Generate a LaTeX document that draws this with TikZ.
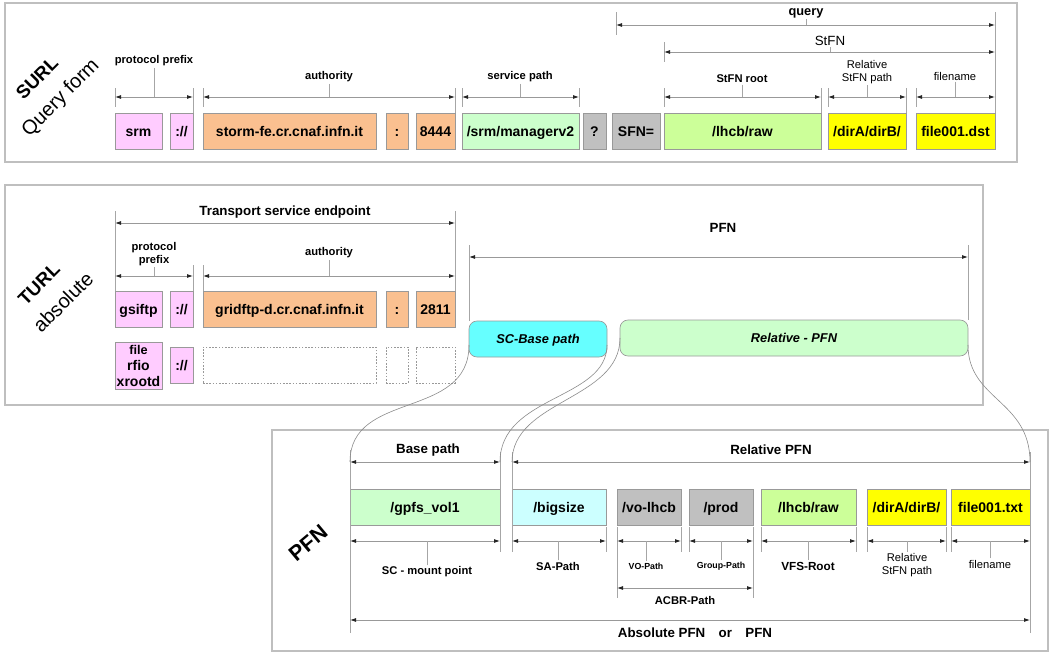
\documentclass[tikz,border=0pt]{standalone}
\usepackage{fontspec}
\usepackage{graphicx}
\setmainfont{Liberation Sans}
\usetikzlibrary{arrows.meta}
\definecolor{cpink}{HTML}{FFCCFF}
\definecolor{corange}{HTML}{FAC090}
\definecolor{cgray}{HTML}{C0C0C0}
\definecolor{cgreen}{HTML}{CCFF99}
\definecolor{clgreen}{HTML}{CCFFCC}
\definecolor{cyellow}{HTML}{FFFF00}
\definecolor{ccyan}{HTML}{66FFFF}
\definecolor{clcyan}{HTML}{CCFFFF}
\tikzset{
  panel/.style={draw=black!25, line width=1.3pt, inner sep=0pt},
  cellm/.style={draw=black!40, line width=0.5pt, inner sep=0pt, align=center,
    font=\bfseries\fontsize{10.5}{12}\selectfont},
  cell/.style={cellm, text height=7.5pt, text depth=0pt},
  ghost/.style={draw=black!40, line width=0.45pt, dash pattern=on 1.2pt off 1.2pt, inner sep=0pt},
  rcell/.style={draw=black!40, line width=0.5pt, inner sep=0pt, rounded corners=6pt,
    text height=6.9pt, text depth=0pt,
    font=\bfseries\itshape\fontsize{9.6}{11}\selectfont},
  dimarrow/.style={draw=black!40, line width=0.6pt,
    {Latex[length=4.5pt,width=3pt,color=black!85]}-{Latex[length=4.5pt,width=3pt,color=black!85]}},
  extline/.style={draw=black!35, line width=0.5pt},
  tickline/.style={draw=black!35, line width=0.5pt},
  curveline/.style={draw=black!45, line width=0.45pt},
  lbl/.style={font=\bfseries\fontsize{8.4}{10}\selectfont, align=center, inner sep=1pt},
  lblr/.style={font=\fontsize{8.4}{10}\selectfont, align=center, inner sep=1pt},
  lbls/.style={font=\bfseries\fontsize{6.6}{8}\selectfont, align=center, inner sep=1pt},
  lblb/.style={font=\bfseries\fontsize{10}{12}\selectfont, align=center, inner sep=1pt},
  bigb/.style={font=\bfseries\fontsize{14}{16}\selectfont, inner sep=0pt},
  bigr/.style={font=\fontsize{15}{17}\selectfont, inner sep=0pt},
}
% cell: [style] name, fill, x1, y1, x2, y2, text
\newcommand\cellbox[8][cell]{\node[#1,fill=#3,minimum width={(#6-#4)*0.75pt},
  minimum height={(#7-#5)*0.75pt}] (#2) at ({(#4+#6)/2},{(#5+#7)/2}) {#8};}
\newcommand\ghostbox[5]{\node[ghost,minimum width={(#4-#2)*0.75pt},
  minimum height={(#5-#3)*0.75pt}] (#1) at ({(#2+#4)/2},{(#3+#5)/2}) {};}
\newcommand\dimln[4]{\coordinate (#1L) at (#2,#4); \coordinate (#1R) at (#3,#4);
  \draw[dimarrow] (#1L) -- (#1R);}
\newcommand\vext[3]{\draw[extline] (#1,#2) -- (#1,#3);}
\begin{document}
\begin{tikzpicture}[x=0.75pt,y=-0.75pt]
\useasboundingbox (0,0) rectangle (1054,657);
\fill[white] (0,0) rectangle (1054,657);

% ================= SURL panel =================
\node[panel, minimum width={1012*0.75pt}, minimum height={159*0.75pt}] (surlpanel) at (511,82.5) {};
\node[bigb] (surl) at (37,78) {\rotatebox{45}{SURL}};
\node[bigr] (qform) at (61,98) {\rotatebox{45}{Query form}};

\cellbox{srm}{cpink}{115}{113}{162}{149}{srm}
\cellbox{sepa}{cpink}{170}{113}{193}{149}{://}
\cellbox{hosta}{corange}{203}{113}{376}{149}{storm-fe.cr.cnaf.infn.it}
\cellbox{colona}{corange}{386}{113}{408}{149}{:}
\cellbox{porta}{corange}{416}{113}{455}{149}{8444}
\cellbox{svc}{clgreen}{462}{113}{579}{149}{/srm/managerv2}
\cellbox{qm}{cgray}{583}{113}{606}{149}{?}
\cellbox{sfn}{cgray}{612}{113}{660}{149}{SFN=}
\cellbox{roota}{cgreen}{664}{113}{821}{149}{/lhcb/raw}
\cellbox{rela}{cyellow}{828}{113}{906}{149}{/dirA/dirB/}
\cellbox{filea}{cyellow}{916}{113}{995}{149}{file001.dst}

\vext{115}{88}{107} \vext{193}{88}{113} \vext{203}{88}{107} \vext{455}{88}{113}
\vext{462}{88}{107} \vext{579}{88}{107}
\vext{616}{12}{35} \vext{995}{12}{113} \vext{664}{42}{62}
\vext{664}{88}{107} \vext{821}{88}{113} \vext{828}{88}{107} \vext{906}{88}{113}
\vext{916}{88}{107}

\dimln{pp}{115}{193}{97}
\node[lbl] (pplab) at (154,61) {protocol prefix};
\draw[tickline] (pplab.south) -- (pplab.south |- ppL);
\dimln{au}{203}{455}{97}
\node[lbl] (aulab) at (329,77) {authority};
\draw[tickline] (aulab.south) -- (aulab.south |- auL);
\dimln{sp}{462}{579}{97}
\node[lbl] (splab) at (520,77) {service path};
\draw[tickline] (splab.south) -- (splab.south |- spL);
\dimln{q}{616}{995}{25}
\node[lbl, font=\bfseries\fontsize{9.6}{11}\selectfont] (qlab) at (806,13) {query};
\draw[tickline] (qlab.south) -- (qlab.south |- qL);
\dimln{st}{664}{995}{52}
\node[lblr, font=\fontsize{10}{12}\selectfont] (stlab) at (830,41) {StFN};
\draw[tickline] (stlab.south) -- (stlab.south |- stL);
\dimln{sr}{664}{821}{97}
\node[lbl] (srlab) at (742,79) {StFN root};
\draw[tickline] (srlab.south) -- (srlab.south |- srL);
\dimln{rs}{828}{906}{97}
\node[lblr] (rslab) at (867,72) {Relative\\StFN path};
\draw[tickline] (rslab.south) -- (rslab.south |- rsL);
\dimln{fn}{916}{995}{97}
\node[lblr] (fnlab) at (955,76) {filename};
\draw[tickline] (fnlab.south) -- (fnlab.south |- fnL);

% ================= TURL panel =================
\node[panel, minimum width={978*0.75pt}, minimum height={220*0.75pt}] (turlpanel) at (494,295) {};
\node[bigb] (turl) at (39,284) {\rotatebox{45}{TURL}};
\node[bigr] (absol) at (63,302) {\rotatebox{45}{absolute}};

\dimln{tse}{115}{455}{223}
\node[lblb] (tselab) at (285,212) {Transport service endpoint};
\vext{115}{211}{291} \vext{455}{211}{291}
\dimln{ppb}{115}{193}{276}
\node[lbl] (ppblab) at (154,254) {protocol\\prefix};
\draw[tickline] (ppblab.south) -- (ppblab.south |- ppbL);
\vext{193}{265}{291}
\dimln{aub}{203}{455}{276}
\node[lbl] (aublab) at (329,253) {authority};
\draw[tickline] (aublab.south) -- (aublab.south |- aubL);
\vext{203}{265}{291}

\cellbox{gsiftp}{cpink}{115}{291}{162}{327}{gsiftp}
\cellbox{sepb}{cpink}{170}{291}{193}{327}{://}
\cellbox{hostb}{corange}{203}{291}{376}{327}{gridftp-d.cr.cnaf.infn.it}
\cellbox{colonb}{corange}{386}{291}{408}{327}{:}
\cellbox{portb}{corange}{416}{291}{455}{327}{2811}

\cellbox[cellm]{protos}{cpink}{115}{342}{162}{389}{\fontsize{9.5}{11.5}\selectfont file\\rfio\\xrootd}
\cellbox{sepc}{cpink}{170}{347}{193}{383}{://}
\ghostbox{ghosta}{203}{347}{376}{383}
\ghostbox{ghostb}{386}{347}{408}{383}
\ghostbox{ghostc}{416}{347}{455}{383}

\dimln{pfn}{469}{968}{257}
\node[lblb] (pfnlab) at (723,228) {PFN};
\vext{469}{245}{321} \vext{968}{245}{320}
\cellbox[rcell]{scbase}{ccyan}{469}{321}{607}{357}{SC-Base path}
\cellbox[rcell]{relpfn}{clgreen}{620}{320}{968}{356}{Relative - PFN}

% ================= PFN panel =================
\node[panel, minimum width={776*0.75pt}, minimum height={221*0.75pt}] (pfnpanel) at (660,540.5) {};
\node[font=\bfseries\fontsize{16}{18}\selectfont, inner sep=0pt] (pfnrot) at (308,543) {\rotatebox{40}{PFN}};

\dimln{bp}{350}{500}{462}
\node[lblb] (bplab) at (428,450) {Base path};
\dimln{rp}{512}{1030}{462}
\node[lblb] (rplab) at (771,450) {Relative PFN};

\cellbox{gpfs}{clgreen}{350}{489}{500}{525}{/gpfs\_vol1}
\cellbox{bigsize}{clcyan}{512}{489}{606}{525}{/bigsize}
\cellbox{volhcb}{cgray}{617}{489}{681}{525}{/vo-lhcb}
\cellbox{prod}{cgray}{689}{489}{753}{525}{/prod}
\cellbox{lhcbraw}{cgreen}{761}{489}{856}{525}{/lhcb/raw}
\cellbox{dirab}{cyellow}{867}{489}{946}{525}{/dirA/dirB/}
\cellbox{fileb}{cyellow}{951}{489}{1030}{525}{file001.txt}

\vext{350}{450}{633} \vext{1030}{452}{633}
\vext{500}{452}{552} \vext{512}{452}{552}
\vext{606}{527}{552} \vext{617}{527}{598} \vext{681}{527}{552}
\vext{689}{527}{552} \vext{753}{527}{598} \vext{761}{527}{552}
\vext{856}{527}{552} \vext{867}{527}{552} \vext{946}{527}{552}
\vext{951}{527}{552}

\dimln{scm}{350}{500}{541}
\node[lbl] (scmlab) at (427,572) {SC - mount point};
\draw[tickline] (scmlab.north) -- (scmlab.north |- scmL);
\dimln{sap}{512}{606}{541}
\node[lbl] (saplab) at (558,566) {SA-Path};
\draw[tickline] (saplab.north) -- (saplab.north |- sapL);
\dimln{vop}{617}{681}{541}
\node[lbls] (voplab) at (646,566) {VO-Path};
\draw[tickline] (voplab.north) -- (voplab.north |- vopL);
\dimln{grp}{689}{753}{541}
\node[lbls] (grplab) at (721,566) {Group-Path};
\draw[tickline] (grplab.north) -- (grplab.north |- grpL);
\dimln{vfs}{761}{856}{541}
\node[lbl, font=\bfseries\fontsize{8.8}{10}\selectfont] (vfslab) at (808,566) {VFS-Root};
\draw[tickline] (vfslab.north) -- (vfslab.north |- vfsL);
\dimln{rsp}{867}{946}{541}
\node[lblr] (rsplab) at (907,565) {Relative\\StFN path};
\draw[tickline] (rsplab.north) -- (rsplab.north |- rspL);
\dimln{fnb}{951}{1030}{541}
\node[lblr] (fnblab) at (990,564) {filename};
\draw[tickline] (fnblab.north) -- (fnblab.north |- fnbL);
\dimln{acbr}{617}{753}{588}
\node[lbl] (acbrlab) at (685,600) {ACBR-Path};
\dimln{abs}{350}{1030}{620}
\node[lblb] (abslab) at (695,633) {Absolute PFN\quad or\quad PFN};

% ================= mapping curves =================
\coordinate (scbL) at (469,345);
\coordinate (scbR) at (607,345);
\coordinate (rpfL) at (620,338);
\coordinate (rpfR) at (968,345);
\draw[curveline] (scbL) .. controls (469,420) and (350,390) .. (bpL);
\draw[curveline] (scbR) .. controls (607,400) and (500,395) .. (bpR);
\draw[curveline] (rpfL) .. controls (620,400) and (512,400) .. (rpL);
\draw[curveline] (rpfR) .. controls (968,400) and (1030,400) .. (rpR);
\end{tikzpicture}
\end{document}
